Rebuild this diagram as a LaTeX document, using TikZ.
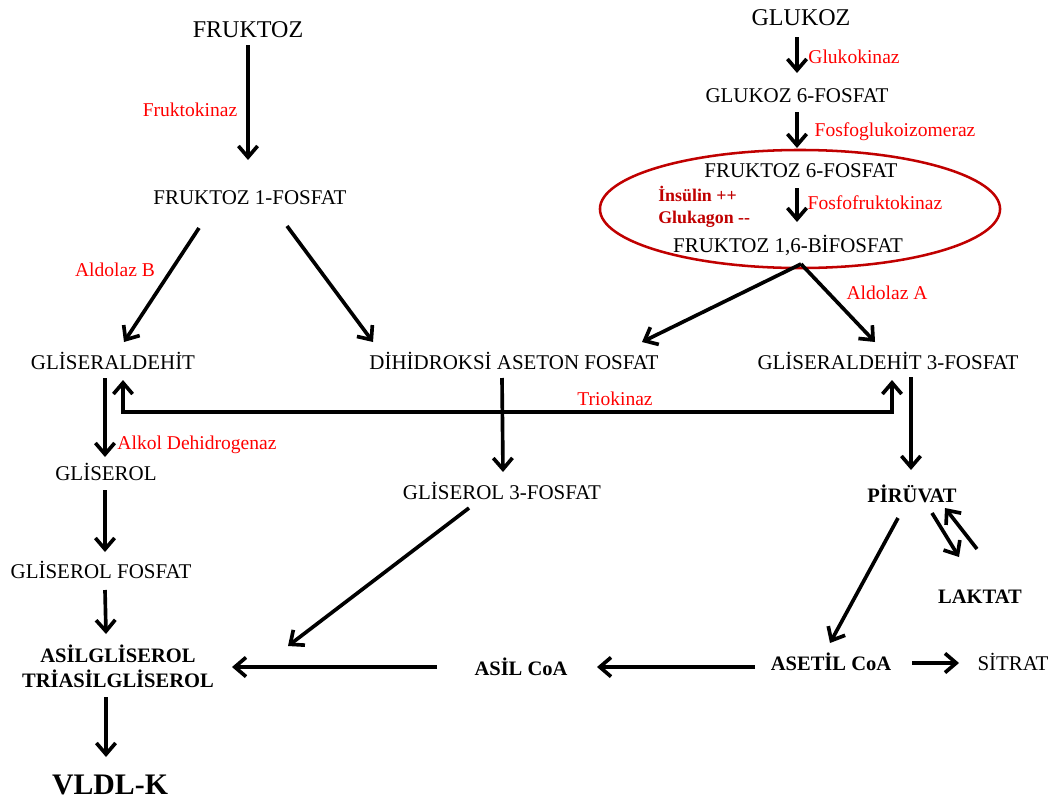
\documentclass[tikz,border=0pt]{standalone}
\usepackage{fontspec}
\setmainfont{Liberation Serif}
\usetikzlibrary{arrows.meta,calc}
\definecolor{enzred}{RGB}{255,0,0}
\definecolor{hormred}{RGB}{192,0,0}
\tikzset{
  barb/.tip={Straight Barb[length=2.8mm,width=4.8mm]},
  met/.style={font=\fontsize{14.9}{17}\selectfont,inner sep=0pt,text height=10pt,text depth=0pt},
  hub/.style={met,font=\fontsize{17.1}{20}\selectfont,text height=11.3pt},
  key/.style={font=\fontsize{14.6}{17.8}\selectfont\bfseries,inner sep=0pt,text height=10pt,text depth=0pt},
  enz/.style={text=enzred,font=\fontsize{13.9}{16}\selectfont,inner sep=0pt,text height=9.6pt,text depth=0pt},
  horm/.style={text=hormred,font=\fontsize{12.7}{15.6}\selectfont\bfseries,inner sep=0pt,align=left},
  flow/.style={-barb,line width=2.6pt},
  both/.style={barb-barb,line width=2.6pt},
}

\begin{document}
\begin{tikzpicture}[x=0.025cm,y=-0.025cm]
  \useasboundingbox (0,0) rectangle (1056,802);
  % upper part: fructose and glucose
  \node[hub] (fru) at (248,30) {FRUKTOZ};
  \node[hub] (glu) at (801,18) {GLUKOZ};
  \node[met] (g6p) at (797,95) {GLUKOZ 6-FOSFAT};
  \node[met] (f6p) at (801,170) {FRUKTOZ 6-FOSFAT};
  \node[met] (f16bp) at (788,245) {FRUKTOZ 1,6-BİFOSFAT};
  \node[met] (f1p) at (250,197) {FRUKTOZ 1-FOSFAT};
  \node[horm,anchor=west] (hrm) at (658,207) {İnsülin ++\\Glukagon -{}-};
  \draw[hormred,line width=1.8pt] (800,209) ellipse [x radius=5cm,y radius=1.475cm];
  % trioses
  \node[met] (gald) at (113,362) {GLİSERALDEHİT};
  \node[met] (dhap) at (514,362) {DİHİDROKSİ ASETON FOSFAT};
  \node[met] (ga3p) at (888,362) {GLİSERALDEHİT 3-FOSFAT};
  \node[met] (glol) at (106,473) {GLİSEROL};
  \node[met] (g3p) at (502,492) {GLİSEROL 3-FOSFAT};
  \node[met] (glolp) at (101,571) {GLİSEROL FOSFAT};
  \node[key] (pyr) at (912,495) {PİRÜVAT};
  \node[key] (lak) at (980,596) {LAKTAT};
  % lower part
  \node[key,text height=,align=center,font=\fontsize{14.6}{17.8}\selectfont\bfseries] (tag) at (118,666) {ASİLGLİSEROL\\TRİASİLGLİSEROL};
  \node[key] (asil) at (521,668) {ASİL CoA};
  \node[key] (acoa) at (831,663) {ASETİL CoA};
  \node[met] (sit) at (1013,663) {SİTRAT};
  \node[key,font=\fontsize{21.2}{25}\selectfont\bfseries,text height=14pt] (vldl) at (110,785) {VLDL-K};
  % enzymes
  \node[enz] (fk) at (190,110) {Fruktokinaz};
  \node[enz] (gk) at (854,57) {Glukokinaz};
  \node[enz] (pgi) at (895,130) {Fosfoglukoizomeraz};
  \node[enz] (pfk) at (875,203) {Fosfofruktokinaz};
  \node[enz] (aldb) at (115,270) {Aldolaz B};
  \node[enz] (alda) at (887,293) {Aldolaz A};
  \node[enz] (tk) at (615,399) {Triokinaz};
  \node[enz] (adh) at (197,443) {Alkol Dehidrogenaz};
  % reactions
  \draw[flow] ($(fru)+(0,15)$) -- ($(f1p)+(-2,-37)$);
  \draw[flow] ($(glu)+(-4,19)$) -- ($(g6p)+(0,-22)$);
  \draw[flow] ($(g6p)+(0,17)$) -- ($(f6p)+(-4,-22)$);
  \draw[flow] ($(f6p)+(-4,18)$) -- ($(f16bp)+(9,-23)$);
  \draw[flow] ($(f1p)+(-51,31)$) -- ($(gald)+(11,-20)$);
  \draw[flow] ($(f1p)+(37,29)$) -- ($(dhap)+(-141,-20)$);
  \draw[flow] ($(f16bp)+(13,19)$) -- ($(dhap)+(128,-20)$);
  \draw[flow] ($(f16bp)+(13,19)$) -- ($(ga3p)+(-13,-20)$);
  \draw[both] ($(gald)+(10,18)$) |- ($(ga3p)+(4,50)$) -- ($(ga3p)+(4,18)$);
  \draw[flow] ($(gald)+(-8,16)$) -- ($(glol)+(-1,-16)$);
  \draw[flow] ($(glol)+(-1,17)$) -- ($(glolp)+(4,-19)$);
  \draw[flow] ($(glolp)+(4,19)$) -- ($(tag)+(-12,-32)$);
  \draw[flow] ($(tag)+(-12,31)$) -- ($(vldl)+(-4,-28)$);
  \draw[flow] ($(dhap)+(-12,16)$) -- ($(g3p)+(1,-20)$);
  \draw[flow] ($(g3p)+(-33,16)$) -- ($(tag)+(170,-20)$);
  \draw[flow] ($(ga3p)+(23,15)$) -- ($(pyr)+(-1,-25)$);
  \draw[flow] ($(pyr)+(20,18)$) -- ($(lak)+(-21,-39)$);
  \draw[flow] ($(lak)+(-3,-47)$) -- ($(pyr)+(33,13)$);
  \draw[flow] ($(pyr)+(-14,23)$) -- ($(acoa)+(-1,-20)$);
  \draw[flow] ($(acoa)+(81,0)$) -- ($(sit)+(-54,0)$);
  \draw[flow] ($(acoa)+(-76,4)$) -- ($(asil)+(76,-1)$);
  \draw[flow] ($(asil)+(-84,-1)$) -- ($(tag)+(114,1)$);
\end{tikzpicture}
\end{document}
